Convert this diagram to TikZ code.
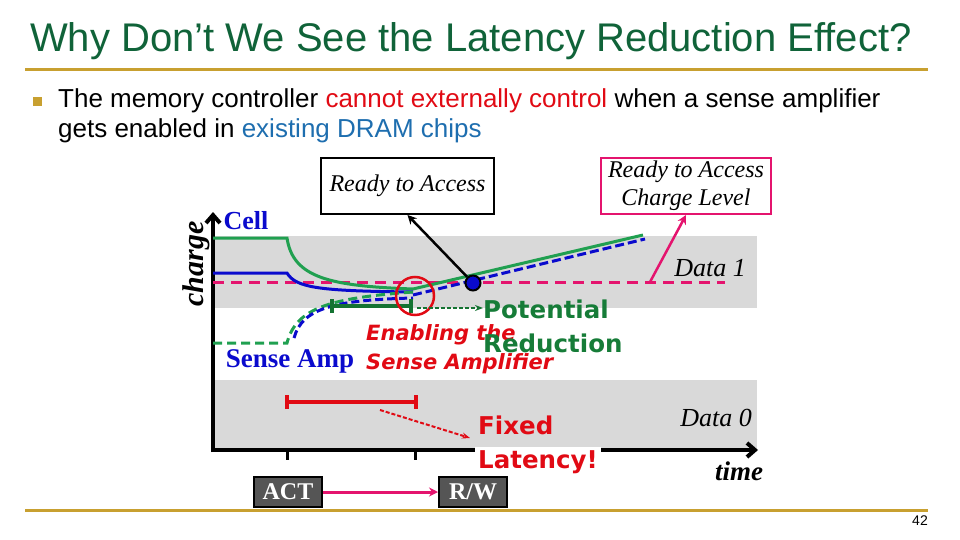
\documentclass[tikz,border=0pt]{standalone}
\usepackage{fontspec}
\setmainfont{Liberation Serif}
\setsansfont{Liberation Sans}
\newfontfamily\verd{DejaVu Sans}
\usetikzlibrary{arrows.meta,positioning,calc}
\definecolor{titlegreen}{RGB}{16,99,57}
\definecolor{gold}{RGB}{200,160,48}
\definecolor{bandgray}{RGB}{217,217,217}
\definecolor{cellblue}{RGB}{10,10,205}
\definecolor{curvegreen}{RGB}{32,160,80}
\definecolor{bargreen}{RGB}{20,115,50}
\definecolor{hotpink}{RGB}{228,20,110}
\definecolor{alertred}{RGB}{225,10,20}
\definecolor{linkblue}{RGB}{30,110,175}
\definecolor{boxgray}{RGB}{85,85,85}
\newcommand{\fsz}[2]{\fontsize{#1}{#2}\selectfont}

\begin{document}
\begin{tikzpicture}[x=1pt, y=-1pt,
  callout/.style={draw, line width=2pt, fill=white, align=center, inner sep=2pt,
                  font=\fsz{24}{28}\itshape},
  cmdbox/.style={draw=black, line width=2pt, fill=boxgray, text=white, inner sep=0pt,
                 minimum width=68pt, minimum height=30pt, font=\fsz{24}{28}\bfseries},
  sansbold/.style={font=\verd\bfseries\fsz{24.5}{34}, align=left, inner sep=0pt},
  bodytext/.style={anchor=base west, inner sep=0pt, font=\sffamily\fsz{26}{30}},
  lbl/.style={inner sep=0pt},
  curve/.style={line width=3pt},
  arr/.style={-{Stealth[length=9pt, width=9pt]}, line width=2.5pt}]
\useasboundingbox (0,0) rectangle (960,540);
\node[anchor=base west, inner sep=0pt, text=titlegreen, font=\sffamily\fsz{40}{44}] (title) at (30,52)
  {Why Don’t We See the Latency Reduction Effect?};
\draw[gold, line width=3pt] (25,70) -- (928,70);
\draw[gold, line width=3pt] (25,510) -- (928,510);
\node[fill=gold, minimum size=9pt, inner sep=0pt] (bullet) at (37,102) {};
\node[bodytext] (line1) at (58,108)
  {The memory controller \textcolor{alertred}{cannot externally control} when a sense amplifier};
\node[bodytext] (line2) at (58,138) {gets enabled in \textcolor{linkblue}{existing DRAM chips}};
\node[anchor=south east, inner sep=0pt, font=\sffamily\fsz{14}{16}] (page) at (928,526) {42};

\fill[bandgray] (213,236) rectangle (757,308);
\fill[bandgray] (213,380) rectangle (757,448);
\draw[-{Straight Barb[length=8pt, width=14pt]}, line width=4pt] (213,452) -- (213,212);
\draw[-{Straight Barb[length=8pt, width=14pt]}, line width=4pt] (211,450) -- (758,450);
\foreach \t in {287,415} \draw[line width=3pt] (\t,450) -- (\t,460);

\node[rotate=90, lbl, font=\fsz{30}{32}\bfseries\itshape] (charge) at (196,264) {charge};
\node[lbl, text=cellblue, font=\fsz{26}{28}\bfseries] (cell) at (246,221) {Cell};
\node[lbl, text=cellblue, font=\fsz{27}{30}\bfseries] (sa) at (290,361) {Sense Amp};
\node[lbl, font=\fsz{26}{28}\itshape] (data1) at (710,268) {Data 1};
\node[lbl, font=\fsz{26}{28}\itshape] (data0) at (716,418) {Data 0};
\node[lbl, font=\fsz{27}{30}\bfseries\itshape] (time) at (739,471) {time};

\draw[hotpink, curve, dash pattern=on 11pt off 7pt] (213,282) -- (725,282);
\draw[curvegreen, curve] (213,238) -- (287,238) .. controls (293,278) and (330,286) .. (413,289) -- (643,235);
\draw[cellblue, curve] (213,273) -- (287,273) .. controls (296,288) and (320,291) .. (413,292);
\draw[cellblue, curve, dash pattern=on 9pt off 4pt] (413,295) -- (645,239);
\draw[curvegreen, curve, dash pattern=on 9pt off 5pt] (213,343) -- (287,343) .. controls (296,308) and (330,298) .. (413,292);
\draw[cellblue, curve, dash pattern=on 8pt off 4pt] (294,338) .. controls (302,308) and (335,300) .. (413,298);
\draw[bargreen, line width=4pt, {Bar[width=14pt]}-{Bar[width=14pt]}] (330,306) -- (413,306);
\draw[alertred, line width=2.5pt] (415,296) circle[radius=19pt];
\node[circle, fill=cellblue, draw=black, line width=2pt, minimum size=15pt, inner sep=0pt] (dot) at (473,283) {};
\draw[alertred, line width=4pt, {Bar[width=14pt]}-{Bar[width=14pt]}] (285,402) -- (418,402);

\node[callout, minimum width=173pt, minimum height=56pt] (ready) at (407.5,186) {Ready to Access};
\node[callout, draw=hotpink, minimum width=170pt, minimum height=56pt] (level) at (686,186)
  {Ready to Access\\Charge Level};
\coordinate (lvlpt) at (650,282);
\coordinate (barend) at (417,308);
\coordinate (fixstart) at (380,410);

\node[lbl, text=alertred, font=\verd\bfseries\itshape\fsz{21}{29}, align=left, anchor=north west] (enable) at (366,324)
  {Enabling the\\Sense Amplifier};
\node[sansbold, text=alertred, anchor=base west] (fixed) at (478,434) {Fixed};
\node[sansbold, text=alertred, anchor=base west, fill=white, inner sep=3pt] (latency) at (475,468) {Latency!};
\node[sansbold, text=bargreen!80!curvegreen, anchor=north west] (potential) at (483,300) {Potential\\Reduction};
\coordinate (fixtip) at ($(fixed.base west)+(-8,4)$);

\node[cmdbox] (act) at (288,492) {ACT};
\node[cmdbox, right=115pt of act] (rw) {R/W};

\draw[arr] (dot) -- (ready.south);
\draw[arr, hotpink] (lvlpt) -- (level.south);
\draw[arr, hotpink, line width=3pt] (act) -- (rw);
\draw[-{Stealth[length=8pt]}, bargreen, line width=2pt, dash pattern=on 4pt off 2pt] (barend) -- (potential.west |- barend);
\draw[-{Stealth[length=8pt]}, alertred, line width=2pt, dash pattern=on 4pt off 2pt] (fixstart) -- (fixtip);
\end{tikzpicture}
\end{document}
